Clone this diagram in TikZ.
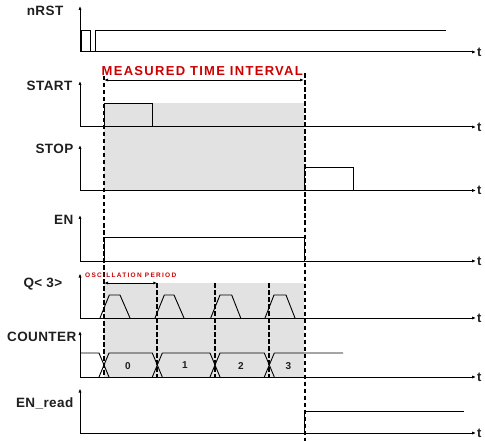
\documentclass[tikz,border=0pt]{standalone}
\usepackage{fontspec}
\setmainfont{Liberation Sans}
\newfontfamily\spacedA{Liberation Sans}[LetterSpace=10]
\newfontfamily\spacedB{Liberation Sans}[LetterSpace=20]
\newfontfamily\spacedC{Liberation Sans}[LetterSpace=3]
\usetikzlibrary{arrows.meta}
\definecolor{redtxt}{RGB}{204,0,0}
\definecolor{shadegray}{RGB}{226,226,226}
\begin{document}
\begin{tikzpicture}[x=1pt,y=-1pt,
  axis/.style={line width=1pt, {Latex[length=4pt,width=3.2pt]}-{Latex[length=4pt,width=3.2pt]}},
  sig/.style={line width=0.9pt},
  dashline/.style={line width=1.7pt, dash pattern=on 4.5pt off 2.5pt},
  lbl/.style={font=\spacedC\fontsize{13.5}{14}\selectfont\bfseries, text=black!88, anchor=east, inner sep=0pt},
  tlbl/.style={font=\fontsize{13}{14}\selectfont\bfseries, text=black!88, anchor=west, inner sep=0pt},
  digit/.style={font=\fontsize{10}{11}\selectfont\bfseries, text=black!88, inner sep=0pt},
  dim/.style={line width=0.9pt, {Latex[length=4pt,width=3pt]}-{Latex[length=4pt,width=3pt]}},
  shaded/.style={fill=shadegray}]
\useasboundingbox (0,0) rectangle (485,441);

% shaded regions
\fill[shaded] (104,103.5) rectangle (303.5,190);
\fill[shaded] (104,283) rectangle (303.5,377);

% labels
\node[lbl] (lnrst) at (63.5,11) {nRST};
\node[lbl] (lstart) at (72.5,86) {START};
\node[lbl] (lstop) at (73.5,149) {STOP};
\node[lbl] (len) at (73.5,220) {EN};
\node[lbl] (lq) at (62.5,284) {Q< 3>};
\node[lbl] (lcnt) at (76.5,337) {COUNTER};
\node[lbl] (lenr) at (73.5,403) {EN\_read};

% axes
\foreach \top/\base/\nm in {6/52/a, 81/127/b, 145/190.5/c, 215/261/d, 273.5/318/e, 331/377/f, 388.5/433/g}{
  \coordinate (ax\nm) at (80,\top);
  \coordinate (o\nm) at (80,\base);
  \coordinate (e\nm) at (476,\base);
  \draw[axis] (ax\nm) -- (o\nm) -- (e\nm);
  \node[tlbl] (t\nm) at (477,\base) {t};
}

% nRST
\draw[sig] (81,52) -- (81,30) -- (90.5,30) -- (90.5,52);
\draw[sig] (95.5,52) -- (95.5,30) -- (446,30);
% START
\draw[sig] (104,127) -- (104,103.5) -- (152.7,103.5) -- (152.7,127);
% STOP
\draw[sig] (304.7,190.5) -- (304.7,167.7) -- (353.7,167.7) -- (353.7,190.5);
% EN
\draw[sig] (104,261) -- (104,237.3) -- (304.7,237.3) -- (304.7,261);
% Q<3>
\foreach \r/\a/\b/\c in {100/109.3/120/130, 155/164.3/174/184, 210.7/220/231.7/240.7, 265/274/286/295}{
  \draw[sig] (\r,318) -- (\a,295) -- (\b,295) -- (\c,318);
}
% COUNTER bus
\draw[sig] (80,353) -- (99,353) -- (109,377);
\draw[sig] (99,377) -- (109,353) -- (152.3,353) -- (162.3,377);
\draw[sig] (152.3,377) -- (162.3,353) -- (210,353) -- (220,377);
\draw[sig] (210,377) -- (220,353) -- (264.3,353) -- (274.3,377);
\draw[sig] (264.3,377) -- (274.3,353) -- (343,353);
\node[digit] (d0) at (128,366) {0};
\node[digit] (d1) at (185,365.5) {1};
\node[digit] (d2) at (241,366) {2};
\node[digit] (d3) at (288.3,366) {3};
% EN_read
\draw[sig] (304.7,433) -- (304.7,411) -- (464,411);

% dashed markers
\draw[dashline] (103.7,76) -- (103.7,377);
\draw[dashline] (304.7,73.5) -- (304.7,441);
\draw[dashline] (157.3,283) -- (157.3,377);
\draw[dashline] (215,283) -- (215,377);
\draw[dashline] (269.3,283) -- (269.3,377);

% measured interval
\coordinate (mL) at (104,80);
\coordinate (mR) at (304,80);
\draw[dim] (mL) -- (mR);
\node[anchor=west, inner sep=0pt, text=redtxt, font=\spacedA\fontsize{13}{14}\selectfont\bfseries] (mtxt) at (101.5,71) {MEASURED TIME INTERVAL};
% oscillation period
\coordinate (pL) at (104,283);
\coordinate (pR) at (157.3,283);
\draw[dim] (pL) -- (pR);
\node[anchor=west, inner sep=0pt, text=redtxt, font=\spacedB\fontsize{6.5}{7}\selectfont\bfseries] (ptxt) at (85,275.5) {OSCILLATION PERIOD};
\end{tikzpicture}
\end{document}
